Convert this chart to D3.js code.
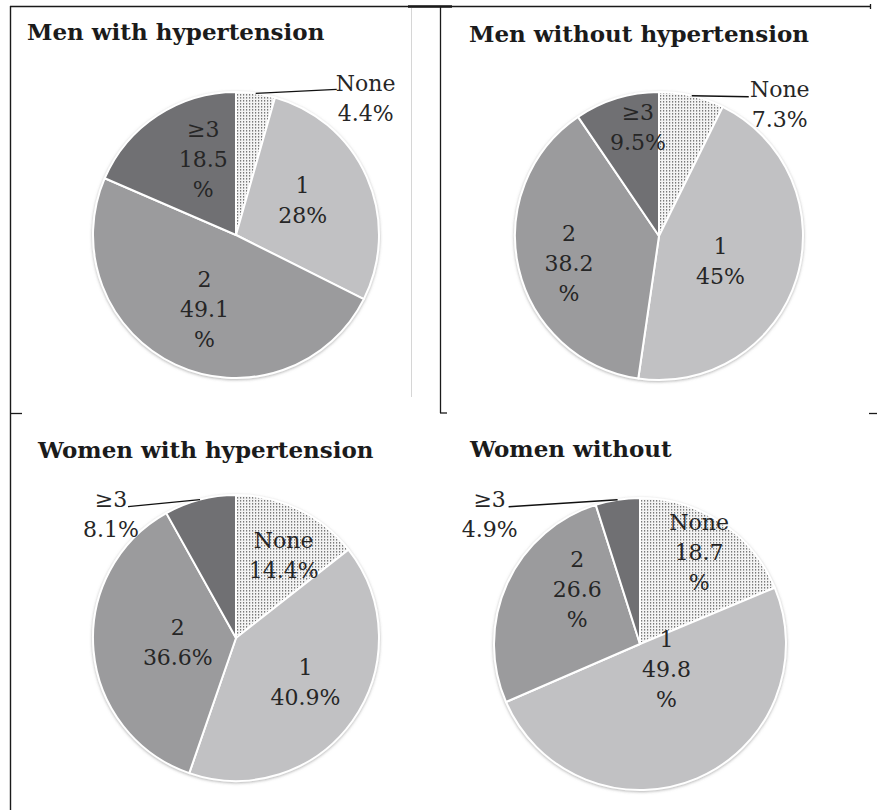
<!DOCTYPE html>
<html>
<head>
<meta charset="utf-8">
<script src="https://cdn.jsdelivr.net/npm/d3@7/dist/d3.min.js"></script>
<style>
  html, body { margin: 0; padding: 0; background: #fff; }
  svg { display: block; }
</style>
</head>
<body>
<svg id="chart" width="877" height="810"></svg>
<script>
// ---------------- DATA ----------------
const categories = ["None", "1", "2", "≥3"];
const panelTitles = ["Men with hypertension", "Men without hypertension", "Women with hypertension", "Women without"];
const menWithHT = [4.4, 28, 49.1, 18.5];
const menWithoutHT = [7.3, 45, 38.2, 9.5];
const womenWithHT = [14.4, 40.9, 36.6, 8.1];
const womenWithoutHT = [18.7, 49.8, 26.6, 4.9];
const seriesValues = [menWithHT, menWithoutHT, womenWithHT, womenWithoutHT];

// ---------------- LAYOUT / STYLE ----------------
const sliceFills = ["url(#dots)", "#c1c1c3", "#9b9b9d", "#707073"];
const panels = [
  { cx: 236, cy: 235, r: 143, tx: 27, ty: 40,
    outside: 0, leader: [81, -4], outText: [29, 2],
    nudge: [null, [-8, -2], [3, 0], [12, -8]], wrap: [false, false, true, true] },
  { cx: 659, cy: 236, r: 144, tx: 469, ty: 42,
    outside: 0, leader: [57, 1], outText: [31, 0],
    nudge: [null, [-17, 1], [-10, 9], [3, -31]], wrap: [false, false, true, false] },
  { cx: 236, cy: 638, r: 143, tx: 38, ty: 458,
    outside: 3, leader: [-72, 7], outText: [-17, 0],
    nudge: [[12, -10], [3, -3], [23, -3], null], wrap: [false, false, false, false] },
  { cx: 640, cy: 644, r: 146, tx: 470, ty: 457,
    outside: 3, leader: [-109, 7], outText: [-19, 0],
    nudge: [[13, -23], [-6, -52], [13, -21], null], wrap: [true, true, true, false] }
];
const lineH = 30, capH = 16;
const textColor = "#262626";

const svg = d3.select("#chart");
const defs = svg.append("defs");
const pat = defs.append("pattern").attr("id", "dots")
  .attr("patternUnits", "userSpaceOnUse").attr("width", 3).attr("height", 3);
pat.append("rect").attr("width", 3).attr("height", 3).attr("fill", "#f4f4f4");
pat.append("rect").attr("x", 1).attr("y", 0).attr("width", 1.2).attr("height", 1.6).attr("fill", "#7a7a7a");

const f = defs.append("filter").attr("id", "shadow")
  .attr("x", "-10%").attr("y", "-10%").attr("width", "120%").attr("height", "120%");
f.append("feDropShadow").attr("dx", 0).attr("dy", 1).attr("stdDeviation", 1.6)
  .attr("flood-color", "#777").attr("flood-opacity", 0.55);

// frame lines (scanned figure borders)
const frame = svg.append("g").attr("stroke", "#1a1a1a").attr("fill", "none");
frame.append("line").attr("x1", 10).attr("y1", 6.5).attr("x2", 871).attr("y2", 6.5).attr("stroke-width", 1.3);
frame.append("line").attr("x1", 408).attr("y1", 6.5).attr("x2", 452).attr("y2", 6.5).attr("stroke-width", 2.5);
frame.append("line").attr("x1", 10.5).attr("y1", 6).attr("x2", 10.5).attr("y2", 810).attr("stroke-width", 1.4);
frame.append("line").attr("x1", 440.5).attr("y1", 6).attr("x2", 440.5).attr("y2", 413).attr("stroke-width", 1.3);
frame.append("line").attr("x1", 440).attr("y1", 413).attr("x2", 447).attr("y2", 413).attr("stroke-width", 1.3);
frame.append("line").attr("x1", 10).attr("y1", 413.5).attr("x2", 22).attr("y2", 413.5).attr("stroke-width", 1.3);
frame.append("line").attr("x1", 869).attr("y1", 413.5).attr("x2", 877).attr("y2", 413.5).attr("stroke-width", 1.3);
frame.append("line").attr("x1", 870.5).attr("y1", 4).attr("x2", 870.5).attr("y2", 9).attr("stroke-width", 1.3);
frame.append("line").attr("x1", 411.5).attr("y1", 8).attr("x2", 411.5).attr("y2", 397)
  .attr("stroke", "#d6d6d6").attr("stroke-width", 1);

const pie = d3.pie().sort(null).value(d => d);

panels.forEach((p, i) => {
  const vals = seriesValues[i];
  const arcs = pie(vals);
  const arc = d3.arc().innerRadius(0).outerRadius(p.r);
  const labelArc = d3.arc().innerRadius(p.r * 0.57).outerRadius(p.r * 0.57);
  const edgeArc = d3.arc().innerRadius(p.r).outerRadius(p.r);

  // title
  svg.append("text")
    .attr("x", p.tx).attr("y", p.ty)
    .attr("font-family", "'DejaVu Serif', serif")
    .attr("font-weight", "bold").attr("font-size", 23)
    .attr("fill", "#1b1b1b")
    .text(panelTitles[i]);

  const g = svg.append("g").attr("transform", `translate(${p.cx},${p.cy})`);
  const slices = g.append("g").attr("filter", "url(#shadow)");
  slices.selectAll("path").data(arcs).join("path")
    .attr("d", arc)
    .attr("fill", (d, j) => sliceFills[j])
    .attr("stroke", "#ffffff").attr("stroke-width", 2).attr("stroke-linejoin", "round");

  arcs.forEach((d, j) => {
    const lines = p.wrap[j]
      ? [categories[j], String(vals[j]), "%"]
      : [categories[j], vals[j] + "%"];
    let ax, ay;
    if (j === p.outside) {
      const [ex, ey] = edgeArc.centroid(d);
      const lx = ex + p.leader[0], ly = ey + p.leader[1];
      g.append("line")
        .attr("x1", ex).attr("y1", ey).attr("x2", lx).attr("y2", ly)
        .attr("stroke", "#111").attr("stroke-width", 1.4);
      ax = lx + p.outText[0];
      ay = ly + p.outText[1];
    } else {
      const [cx, cy] = labelArc.centroid(d);
      const cxn = cx + p.nudge[j][0], cyn = cy + p.nudge[j][1];
      ax = cxn;
      ay = cyn - ((lines.length - 1) * lineH - capH) / 2;
    }
    const t = g.append("text")
      .attr("x", ax).attr("y", ay)
      .attr("text-anchor", "middle")
      .attr("font-family", "'DejaVu Serif', serif")
      .attr("font-size", 22)
      .attr("fill", textColor);
    lines.forEach((ln, k) => {
      t.append("tspan").attr("x", ax).attr("dy", k === 0 ? 0 : lineH).text(ln);
    });
  });
});
</script>
</body>
</html>
